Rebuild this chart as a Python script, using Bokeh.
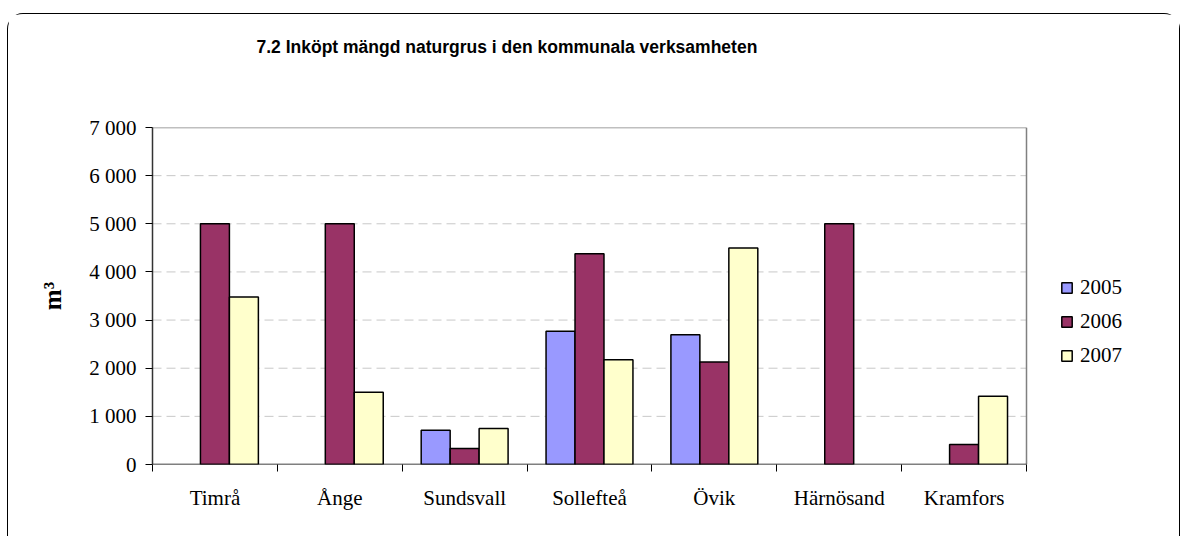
from bokeh.plotting import figure
from bokeh.models import Range1d, FixedTicker, Legend, LegendItem, ColumnDataSource, Title
from bokeh.transform import dodge
from bokeh.embed import file_html
from bokeh.resources import INLINE
import numpy as np

categories = ["Timrå", "Ånge", "Sundsvall", "Sollefteå", "Övik", "Härnösand", "Kramfors"]
years = ["2005", "2006", "2007"]
v2005 = [None, None, 710, 2770, 2695, None, None]
v2006 = [5000, 5000, 330, 4380, 2130, 5000, 415]
v2007 = [3480, 1500, 750, 2175, 4495, None, 1420]
ytick_values = [0, 1000, 2000, 3000, 4000, 5000, 6000, 7000]
ytick_labels = ["0", "1 000", "2 000", "3 000", "4 000", "5 000", "6 000", "7 000"]
colors = ["#9999FF", "#993366", "#FFFFCC"]
title_text = "7.2 Inköpt mängd naturgrus i den kommunala verksamheten"
y_label = "m³"

def nz(a):
    return [np.nan if v is None else v for v in a]

n = len(categories)
ymax = ytick_values[-1]
centers = [i + 0.5 for i in range(n)]
bounds = list(range(n + 1))

src = ColumnDataSource(dict(xc=centers, y2005=nz(v2005), y2006=nz(v2006), y2007=nz(v2007)))

# plot area of the categories is 874px wide; the frame also covers the legend area
plot_w, frame_w = 874, 1029
p = figure(width=1173, height=523, x_range=Range1d(0, n * frame_w / plot_w),
           y_range=Range1d(0, ymax),
           output_backend="svg", toolbar_location=None,
           min_border_left=144, min_border_right=0, min_border_top=113, min_border_bottom=73)
p.margin = (13, 0, 0, 7)
p.styles = {"border-top": "1.5px solid #000", "border-left": "1.5px solid #000",
            "border-right": "1.5px solid #000",
            "border-top-left-radius": "16px", "border-top-right-radius": "16px"}

p.title.visible = False
spacer = Title(text=" ", text_font_size="10px", standoff=58)
p.add_layout(spacer, "above")
main_title = Title(text=title_text, text_font="Liberation Sans", text_font_size="17.5px",
                   text_font_style="bold", text_color="black", align="left", offset=104,
                   standoff=0)
p.add_layout(main_title, "above")

p.outline_line_color = None
p.xgrid.visible = False
p.ygrid.visible = False

# dashed gridlines across the plot area
grid_vals = ytick_values[1:-1]
p.segment(x0=[0] * len(grid_vals), x1=[n] * len(grid_vals), y0=grid_vals, y1=grid_vals,
          line_color="#C8C8C8", line_dash="9 5", line_width=1)

bw = 0.232
renders = []
for k, (yr, col) in enumerate(zip(years, ["y2005", "y2006", "y2007"])):
    r = p.vbar(x=dodge("xc", (k - 1) * bw, range=p.x_range), top=col, width=bw, source=src,
               fill_color=colors[k], line_color="black", line_width=1.5)
    renders.append(r)

# plot-area border (top and right, grey) and category axis line (black)
p.segment(x0=[0, n], x1=[n, n], y0=[ymax, 0], y1=[ymax, ymax], line_color="#808080", line_width=1.5)
p.segment(x0=[0], x1=[n], y0=[0], y1=[0], line_color="black", line_width=1.5)

xa = p.xaxis[0]
xa.ticker = FixedTicker(ticks=centers, minor_ticks=bounds)
xa.major_label_overrides = {c: cat for c, cat in zip(centers, categories)}
xa.major_tick_line_color = None
xa.major_tick_out = 7
xa.major_tick_in = 0
xa.minor_tick_line_color = "black"
xa.minor_tick_out = 7
xa.minor_tick_in = 0
xa.minor_tick_line_width = 1
xa.axis_line_color = None
xa.major_label_standoff = 14
xa.major_label_text_font = "Liberation Serif"
xa.major_label_text_font_size = "21px"
xa.major_label_text_color = "black"

ya = p.yaxis[0]
ya.ticker = FixedTicker(ticks=ytick_values)
ya.major_label_overrides = {v: l for v, l in zip(ytick_values, ytick_labels)}
ya.major_tick_out = 7
ya.major_tick_in = 0
ya.major_tick_line_color = "black"
ya.minor_tick_line_color = None
ya.axis_line_color = "#333333"
ya.axis_line_width = 1.5
ya.major_label_standoff = 9
ya.major_label_text_font = "Liberation Serif"
ya.major_label_text_font_size = "21px"
ya.major_label_text_color = "black"
ya.axis_label = y_label
ya.axis_label_text_font = "Liberation Serif"
ya.axis_label_text_font_size = "25px"
ya.axis_label_text_font_style = "bold"
ya.axis_label_text_color = "black"
ya.axis_label_standoff = 20

legend = Legend(items=[LegendItem(label=yr, renderers=[r]) for yr, r in zip(years, renders)],
                location=(908, 96), glyph_width=13, glyph_height=13, label_height=20,
                spacing=9, padding=10, margin=0, label_standoff=7,
                label_text_font="Liberation Serif", label_text_font_size="21px",
                label_text_color="black",
                border_line_color=None, background_fill_alpha=0)
p.add_layout(legend)

open("out.html", "w").write(file_html(p, INLINE))
